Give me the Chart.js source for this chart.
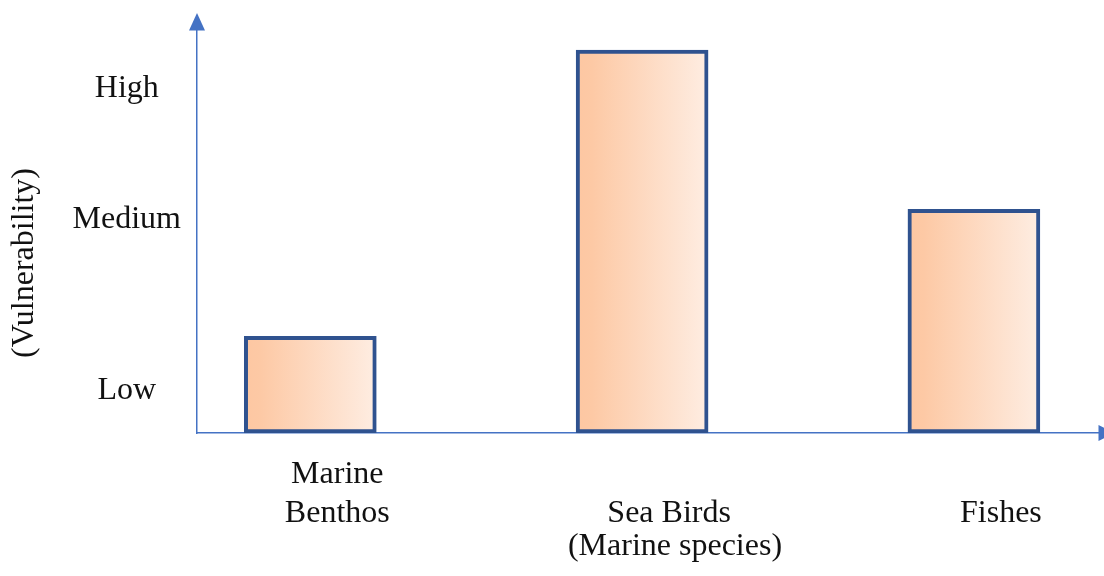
<!DOCTYPE html>
<html>
<head>
<meta charset="utf-8">
<script src="https://cdn.jsdelivr.net/npm/chart.js@4/dist/chart.umd.min.js"></script>
<style>
  html, body { margin: 0; padding: 0; background: #ffffff; }
  #wrap { width: 1104px; height: 576px; }
</style>
</head>
<body>
<div id="wrap"><canvas id="chart" width="1104" height="576"></canvas></div>
<script>
// Species groups along the horizontal axis
const categories = [["Marine", "Benthos"], "Sea Birds", "Fishes"];
// Relative vulnerability on a 0–10 scale
const vulnerability = [2.4, 9.5, 5.55];
// Qualitative levels shown on the vertical axis
const levelLabels = ["Low", "Medium", "High"];
const levelValues = [1.05, 5.3, 8.55];

const xTitle = "(Marine species)";
const yTitle = "(Vulnerability)";

const AXIS_BLUE = "#4472c4";
const BAR_EDGE = "#2f528f";
const TEXT = "#111111";
const FONT = "'Liberation Serif', 'Times New Roman', serif";
const FONT_SIZE = 32;

// Peach-to-cream horizontal gradient for each bar
function barFill(ctx) {
  const chart = ctx.chart;
  const xs = chart.scales && chart.scales.x;
  if (!chart.chartArea || !xs || ctx.dataIndex === undefined) return "#fdd3b6";
  const cx = xs.getPixelForValue(ctx.dataIndex);
  const half = 66;
  const g = chart.ctx.createLinearGradient(cx - half, 0, cx + half, 0);
  g.addColorStop(0, "#fdc7a2");
  g.addColorStop(0.12, "#fdc9a5");
  g.addColorStop(1, "#feede2");
  return g;
}

// Arrowheads on both axes plus the two axis titles
const axisDecor = {
  id: "axisDecor",
  afterDraw(chart) {
    const { ctx, chartArea: a } = chart;
    ctx.save();
    ctx.fillStyle = AXIS_BLUE;
    // vertical axis arrow
    ctx.beginPath();
    ctx.moveTo(a.left, a.top - 17);
    ctx.lineTo(a.left - 8, a.top + 0.5);
    ctx.lineTo(a.left + 8, a.top + 0.5);
    ctx.closePath();
    ctx.fill();
    // horizontal axis arrow
    ctx.beginPath();
    ctx.moveTo(a.right + 16, a.bottom);
    ctx.lineTo(a.right - 0.5, a.bottom - 8);
    ctx.lineTo(a.right - 0.5, a.bottom + 8);
    ctx.closePath();
    ctx.fill();

    ctx.fillStyle = TEXT;
    ctx.font = FONT_SIZE + "px " + FONT;
    ctx.textAlign = "center";
    ctx.textBaseline = "middle";
    ctx.fillText(xTitle, a.left + 478, a.bottom + 114);

    ctx.translate(a.left - 172, a.top + 233);
    ctx.rotate(-Math.PI / 2);
    ctx.fillText(yTitle, 0, 0);
    ctx.restore();
  }
};

new Chart(document.getElementById("chart"), {
  type: "bar",
  data: {
    datasets: [{
      data: vulnerability.map((v, i) => ({ x: i, y: v })),
      backgroundColor: barFill,
      borderColor: BAR_EDGE,
      borderWidth: 4,
      borderSkipped: false,
      barThickness: 132
    }]
  },
  options: {
    responsive: false,
    animation: false,
    devicePixelRatio: 1,
    layout: { padding: { top: 30, right: 5, left: 0, bottom: 0 } },
    plugins: {
      legend: { display: false },
      tooltip: { enabled: false }
    },
    scales: {
      x: {
        type: "linear",
        offset: false,
        min: -0.3415,
        max: 2.377,
        grid: { display: false, drawTicks: false, offset: false },
        border: { display: true, color: AXIS_BLUE, width: 1.5 },
        afterBuildTicks(scale) {
          scale.ticks = categories.map((c, i) => ({ value: i }));
        },
        afterFit(scale) {
          scale.height = 143;
          scale.paddingLeft = 0;
          scale.paddingRight = 0;
        },
        ticks: {
          autoSkip: false,
          maxRotation: 0,
          minRotation: 0,
          padding: 42,
          labelOffset: 27,
          crossAlign: "far",
          color: TEXT,
          font: { family: FONT, size: FONT_SIZE, lineHeight: 39 / FONT_SIZE },
          callback: (v, i) => categories[i]
        }
      },
      y: {
        type: "linear",
        min: 0,
        max: 10,
        grid: { display: false, drawTicks: false },
        border: { display: true, color: AXIS_BLUE, width: 1.5 },
        afterBuildTicks(scale) {
          scale.ticks = levelValues.map(v => ({ value: v }));
        },
        afterFit(scale) {
          scale.width = 197;
          scale.paddingTop = 0;
          scale.paddingBottom = 0;
        },
        ticks: {
          autoSkip: false,
          padding: 16,
          crossAlign: "center",
          color: TEXT,
          font: { family: FONT, size: FONT_SIZE },
          callback: (v, i) => levelLabels[i]
        }
      }
    }
  },
  plugins: [axisDecor]
});
</script>
</body>
</html>
